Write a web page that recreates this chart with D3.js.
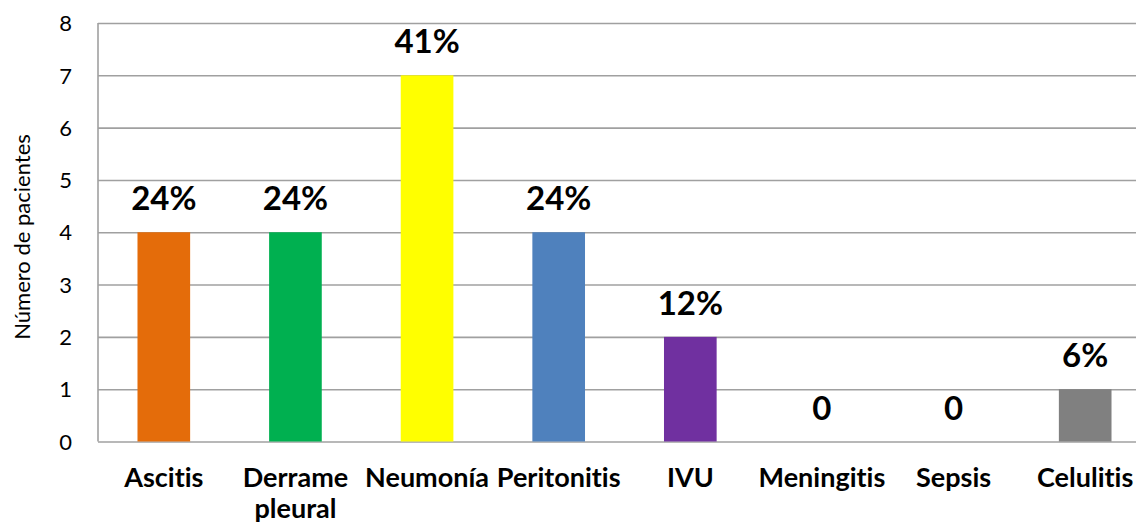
<!DOCTYPE html>
<html>
<head>
<meta charset="utf-8">
<style>
  body { margin: 0; background: #fff; }
  svg text { font-variant-ligatures: none; }
  .tick text { font-family: Lato, "Open Sans", sans-serif; font-size: 22px; fill: #000; }
  .cat text { font-family: Lato, sans-serif; font-weight: bold; font-size: 27px; fill: #000; }
  .val { font-family: Lato, sans-serif; font-weight: bold; font-size: 33px; fill: #000; }
  .ytitle { font-family: Lato, sans-serif; font-size: 22px; fill: #000; }
</style>
<script src="https://d3js.org/d3.v7.min.js"></script>
</head>
<body>
<svg width="1136" height="526"></svg>
<script>
var categories = ["Ascitis", "Derrame pleural", "Neumonía", "Peritonitis", "IVU", "Meningitis", "Sepsis", "Celulitis"];
var values = [4, 4, 7, 4, 2, 0, 0, 1];
var valueLabels = ["24%", "24%", "41%", "24%", "12%", "0", "0", "6%"];
var barColors = ["#E46C0A", "#00B050", "#FFFF00", "#4F81BD", "#7030A0", "#7030A0", "#808080", "#808080"];
var yTicks = [0, 1, 2, 3, 4, 5, 6, 7, 8];

var svg = d3.select("svg");
var plotLeft = 98, plotRight = 1151, plotTop = 23, plotBottom = 441.5;

var x = d3.scaleBand()
    .domain(categories)
    .range([plotLeft, plotRight])
    .paddingInner(0.6)
    .paddingOuter(0.3);

var y = d3.scaleLinear()
    .domain([0, 8])
    .range([plotBottom, plotTop]);

// gridlines + tick labels
var yAxis = svg.append("g")
    .attr("transform", "translate(" + plotLeft + ",0)")
    .call(d3.axisLeft(y).tickValues(yTicks).tickSize(-(plotRight - plotLeft)).tickPadding(26).tickFormat(d3.format("d")));
yAxis.select(".domain").remove();
yAxis.selectAll(".tick line").attr("stroke", "#a0a0a0").attr("stroke-width", 1.6);
yAxis.selectAll(".tick text").attr("dy", "0.35em");

// left axis line
svg.append("line")
    .attr("x1", plotLeft).attr("x2", plotLeft)
    .attr("y1", y(8)).attr("y2", y(0))
    .attr("stroke", "#a0a0a0").attr("stroke-width", 1.6);

// bars
svg.selectAll(".bar")
    .data(categories)
    .enter().append("rect")
    .attr("class", "bar")
    .attr("x", function(d) { return x(d); })
    .attr("y", function(d, i) { return y(values[i]); })
    .attr("width", x.bandwidth())
    .attr("height", function(d, i) { return y(0) - y(values[i]); })
    .attr("fill", function(d, i) { return barColors[i]; });

// value labels
svg.selectAll(".val")
    .data(categories)
    .enter().append("text")
    .attr("class", "val")
    .attr("text-anchor", "middle")
    .attr("x", function(d) { return x(d) + x.bandwidth() / 2; })
    .attr("y", function(d, i) { return y(values[i]) - 22; })
    .text(function(d, i) { return valueLabels[i]; });

// category labels
var cat = svg.append("g").attr("class", "cat");
categories.forEach(function(c) {
  var words = c === "Derrame pleural" ? ["Derrame", "pleural"] : [c];
  var t = cat.append("text")
      .attr("text-anchor", "middle")
      .attr("x", x(c) + x.bandwidth() / 2)
      .attr("y", 487);
  words.forEach(function(w, j) {
    t.append("tspan")
        .attr("x", x(c) + x.bandwidth() / 2)
        .attr("dy", j === 0 ? 0 : 31)
        .text(w);
  });
});

// y title
svg.append("text")
    .attr("class", "ytitle")
    .attr("text-anchor", "middle")
    .attr("transform", "translate(30," + 237 + ") rotate(-90)")
    .text("Número de pacientes");
</script>
</body>
</html>
